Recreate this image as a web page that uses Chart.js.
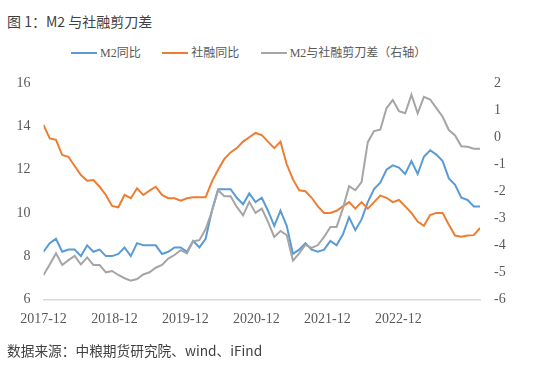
<!DOCTYPE html>
<html>
<head>
<meta charset="utf-8">
<script src="https://cdn.jsdelivr.net/npm/chart.js@4"></script>
<style>
  html, body { margin: 0; padding: 0; background: #fff; }
  #wrap { position: relative; width: 550px; height: 369px; overflow: hidden; }
  #c { position: absolute; left: 0; top: 0; }
  .title { position: absolute; left: 7px; top: 12px; font: 14px/18px "Noto Sans CJK SC", sans-serif; color: #404040; }
  .source { position: absolute; left: 7px; top: 341px; font: 13.7px/18px "Noto Sans CJK SC", sans-serif; color: #404040; }
  #legend { position: absolute; left: 71px; top: 45px; display: flex; align-items: center; font: 12px/16px "Liberation Serif", "Noto Sans CJK SC", serif; color: #595959; }
  #legend .item { display: flex; align-items: center; margin-right: 21.5px; }
  #legend .swatch { width: 26px; height: 2px; margin-right: 3px; }
</style>
</head>
<body>
<div id="wrap">
  <div class="title">图 1：M2 与社融剪刀差</div>
  <div id="legend"></div>
  <canvas id="c" width="550" height="369"></canvas>
  <div class="source">数据来源：中粮期货研究院、wind、iFind</div>
</div>
<script>
// ---- data (monthly, 2017-12 .. 2023-10) ----
const MONTHS = [];
for (let y = 2017, m = 12; y < 2023 || (y === 2023 && m <= 10); ) {
  MONTHS.push(y + '-' + String(m).padStart(2, '0'));
  m++; if (m > 12) { m = 1; y++; }
}

const M2_YOY = [8.2, 8.6, 8.8, 8.2, 8.3, 8.3, 8.0, 8.5, 8.2, 8.3, 8.0, 8.0, 8.1,
  8.4, 8.0, 8.6, 8.5, 8.5, 8.5, 8.1, 8.2, 8.4, 8.4, 8.2, 8.7,
  8.4, 8.8, 10.1, 11.1, 11.1, 11.1, 10.7, 10.4, 10.9, 10.5, 10.7, 10.1,
  9.4, 10.1, 9.4, 8.1, 8.3, 8.6, 8.3, 8.2, 8.3, 8.7, 8.5, 9.0,
  9.8, 9.2, 9.7, 10.5, 11.1, 11.4, 12.0, 12.2, 12.1, 11.8, 12.4, 11.8,
  12.6, 12.9, 12.7, 12.4, 11.6, 11.3, 10.7, 10.6, 10.3, 10.3];

const TSF_YOY = [14.07, 13.45, 13.38, 12.68, 12.6, 12.17, 11.75, 11.49, 11.52, 11.21, 10.83, 10.32, 10.26,
  10.83, 10.68, 11.14, 10.83, 11.03, 11.21, 10.83, 10.68, 10.68, 10.57, 10.68, 10.72,
  10.72, 10.72, 11.45, 12.0, 12.5, 12.8, 13.0, 13.3, 13.5, 13.7, 13.6, 13.3,
  13.0, 13.3, 12.25, 11.55, 11.05, 11.0, 10.7, 10.3, 10.0, 10.0, 10.1, 10.3,
  10.5, 10.2, 10.5, 10.2, 10.5, 10.8, 10.7, 10.5, 10.6, 10.3, 10.0, 9.6,
  9.4, 9.9, 10.0, 10.0, 9.45, 8.95, 8.9, 8.95, 8.97, 9.3];

const SCISSORS = [-5.1, -4.71, -4.3, -4.73, -4.55, -4.39, -4.71, -4.45, -4.73, -4.73,
  -5.0, -4.95, -5.1, -5.22, -5.31, -5.25, -5.08, -5.0, -4.83, -4.73,
  -4.49, -4.36, -4.18, -4.3, -3.85, -3.81, -3.4, -2.75, -1.96, -2.18,
  -2.18, -2.58, -2.89, -2.39, -2.8, -2.64, -3.13, -3.69, -3.47, -3.62,
  -4.57, -4.3, -3.98, -4.1, -3.99, -3.69, -3.32, -3.32, -2.64, -1.81,
  -1.96, -1.66, -0.18, 0.23, 0.28, 1.08, 1.38, 0.97, 0.89, 1.58,
  0.89, 1.5, 1.4, 1.08, 0.76, 0.27, 0.07, -0.33, -0.35, -0.42, -0.42];

const X_TICK_LABELS = ['2017-12', '2018-12', '2019-12', '2020-12', '2021-12', '2022-12'];
const LABEL_STEP = 11.38; // the source spaces its year labels a bit tighter than 12 months

const SERIES = [
  { label: 'M2同比', data: M2_YOY, color: '#5b9bd5', axis: 'y', order: 3 },
  { label: '社融同比', data: TSF_YOY, color: '#ed7d31', axis: 'y', order: 2 },
  { label: 'M2与社融剪刀差（右轴）', data: SCISSORS, color: '#a5a5a5', axis: 'y1', order: 1 }
];

// ---- legend (html) ----
const legend = document.getElementById('legend');
SERIES.forEach(s => {
  const it = document.createElement('div');
  it.className = 'item';
  it.innerHTML = `<span class="swatch" style="background:${s.color}"></span><span>${s.label}</span>`;
  legend.appendChild(it);
});

// ---- chart ----
const tickFont = { family: '"Liberation Serif", "Noto Sans CJK SC", serif', size: 14 };
const TICK_COLOR = '#595959';

new Chart(document.getElementById('c'), {
  type: 'line',
  data: {
    datasets: SERIES.map(s => ({
      label: s.label,
      data: s.data.map((v, i) => ({ x: i, y: v })),
      borderColor: s.color,
      backgroundColor: s.color,
      borderWidth: 2,
      pointRadius: 0,
      tension: 0,
      yAxisID: s.axis,
      order: s.order
    }))
  },
  options: {
    responsive: false,
    animation: false,
    layout: { padding: { top: 83.3, left: 3.5, right: 30.3, bottom: 28.9 } },
    plugins: { legend: { display: false }, tooltip: { enabled: false } },
    scales: {
      x: {
        type: 'linear', min: 0, max: MONTHS.length - 1,
        grid: { display: false, drawTicks: false },
        border: { display: true, color: '#d9d9d9', width: 1.5 },
        afterBuildTicks: sc => { sc.ticks = X_TICK_LABELS.map((_, k) => ({ value: k * LABEL_STEP })); },
        ticks: { autoSkip: false, maxRotation: 0, padding: 12, font: tickFont, color: TICK_COLOR,
                 callback: (v, idx) => X_TICK_LABELS[idx] }
      },
      y: {
        position: 'left', min: 6, max: 16,
        grid: { display: false, drawTicks: false },
        border: { display: false },
        ticks: { stepSize: 2, padding: 13, font: tickFont, color: TICK_COLOR }
      },
      y1: {
        position: 'right', min: -6, max: 2,
        grid: { display: false, drawTicks: false },
        border: { display: false },
        ticks: { stepSize: 1, padding: 14, font: tickFont, color: TICK_COLOR }
      }
    }
  }
});
</script>
</body>
</html>
